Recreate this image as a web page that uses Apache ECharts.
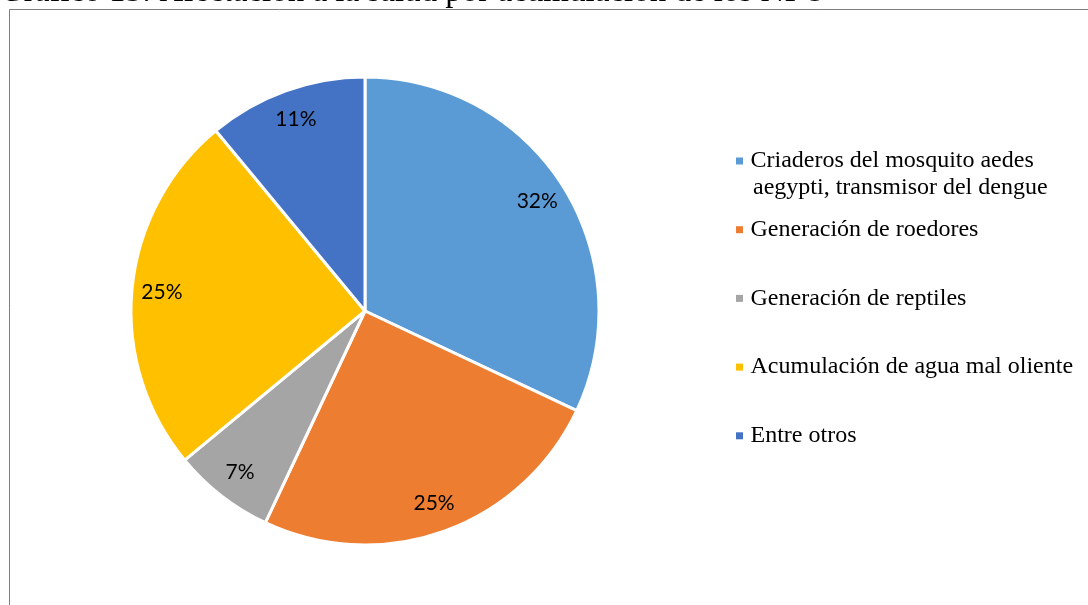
<!DOCTYPE html>
<html>
<head>
<meta charset="utf-8">
<title>Afectación a la salud por acumulación de los NFU</title>
<script src="https://cdn.jsdelivr.net/npm/echarts@6/dist/echarts.min.js"></script>
<style>
  html, body { margin: 0; padding: 0; background: #ffffff; }
  #chart { width: 1088px; height: 605px; }
</style>
</head>
<body>
<div id="chart"></div>
<script>
// Categories and their shares (%)
const categories = [
  'Criaderos del mosquito aedes aegypti, transmisor del dengue',
  'Generación de roedores',
  'Generación de reptiles',
  'Acumulación de agua mal oliente',
  'Entre otros'
];
const shares = [32, 25, 7, 25, 11];
const colors = ['#5B9BD5', '#ED7D31', '#A5A5A5', '#FFC000', '#4472C4'];

// First legend entry wraps onto two lines
const legendFirstLine = 'Criaderos del mosquito aedes';
const legendSecondLine = 'aegypti, transmisor del dengue';

const titleText = 'Gráfico 15: Afectación a la salud por acumulación de los NFU';

const center = [365, 311];
const radius = 234;

const pieData = categories.map((name, i) => ({
  name: name,
  value: shares[i],
  itemStyle: { color: colors[i] }
}));

const legendText = {
  fontFamily: 'Liberation Serif',
  fontSize: 24,
  lineHeight: 27,
  color: '#000000'
};

const chart = echarts.init(document.getElementById('chart'), null, { renderer: 'canvas' });

chart.setOption({
  backgroundColor: '#ffffff',
  animation: false,
  title: {
    text: titleText,
    left: 0,
    top: -24,
    padding: 0,
    textStyle: {
      fontFamily: 'Liberation Serif',
      fontSize: 33,
      fontWeight: 'normal',
      lineHeight: 33,
      color: '#000000'
    }
  },
  legend: [
    {
      orient: 'vertical',
      left: 736,
      top: 147.5,
      padding: 0,
      itemGap: 41.7,
      itemWidth: 12,
      itemHeight: 7,
      icon: 'path://M0,0h10v10h-10z',
      symbolKeepAspect: true,
      itemStyle: { borderWidth: 0 },
      selectedMode: false,
      data: categories,
      formatter: function (name) {
        return name === categories[0] ? legendFirstLine : name;
      },
      textStyle: legendText
    },
    {
      // continuation line of the first entry, aligned with its text
      orient: 'vertical',
      left: 736,
      top: 174.5,
      padding: 0,
      itemWidth: 12,
      itemHeight: 7,
      selectedMode: false,
      data: [{ name: categories[0], icon: 'none' }],
      formatter: function () { return legendSecondLine; },
      textStyle: legendText
    }
  ],
  graphic: [
    {
      // chart frame
      type: 'rect',
      silent: true,
      shape: { x: 9.5, y: 9.5, width: 1200, height: 800 },
      style: { fill: 'none', stroke: '#7f7f7f', lineWidth: 1 }
    }
  ],
  series: [
    {
      name: 'Afectación',
      type: 'pie',
      center: center,
      radius: [0, radius],
      startAngle: 90,
      clockwise: true,
      silent: true,
      label: { show: false },
      labelLine: { show: false },
      emphasis: { disabled: true },
      itemStyle: { borderColor: '#ffffff', borderWidth: 3 },
      data: pieData
    },
    {
      // label ring: places the percentage near the outer edge of each slice
      name: 'Etiquetas',
      type: 'pie',
      center: center,
      radius: [168, radius],
      startAngle: 90,
      clockwise: true,
      silent: true,
      emphasis: { disabled: true },
      itemStyle: { color: 'rgba(0,0,0,0)', borderWidth: 0 },
      labelLine: { show: false },
      label: {
        show: true,
        position: 'inside',
        formatter: '{c}%',
        fontFamily: 'Lato',
        fontSize: 21,
        color: '#000000'
      },
      data: categories.map((name, i) => ({ name: name, value: shares[i] }))
    }
  ]
});
</script>
</body>
</html>
